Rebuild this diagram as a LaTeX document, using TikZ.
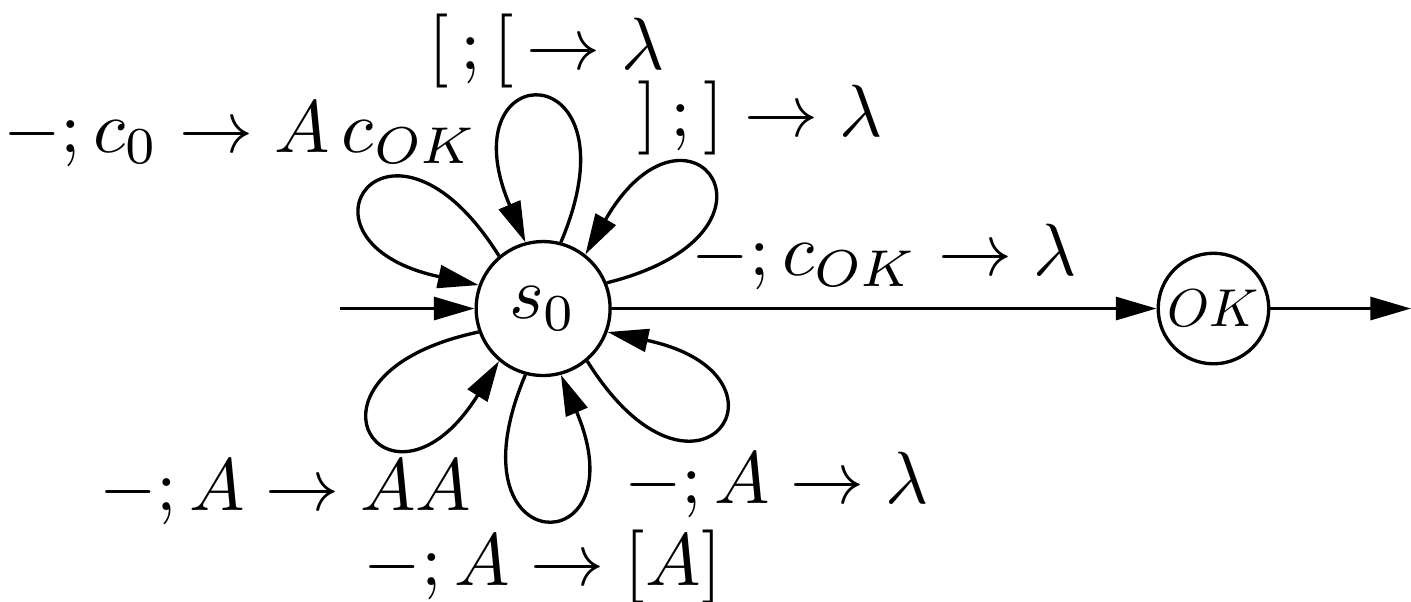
\documentclass[tikz,border=0pt]{standalone}
\usetikzlibrary{arrows.meta}

\tikzset{
  state/.style={draw, circle, inner sep=0pt, minimum size=6.36mm},
  trans/.style={-{Triangle[length=5.5pt,width=3.1pt]}},
  lbl/.style={anchor=base, inner sep=0pt}
}

\begin{document}
\begin{tikzpicture}[line width=0.45pt]
    \useasboundingbox (0,0) rectangle (6.70,2.855);

    % States
    \node[state] (s0) at (2.579,1.39) {$s_0$};
    \node[state, minimum size=5.25mm] (ok) at (5.762,1.39) {\scalebox{0.72}{$OK$}};
    \coordinate (start) at (1.615,1.39);
    \coordinate (stop) at (6.70,1.39);

    % Entry, exit and the step to OK
    \draw[trans] (start) -- (s0);
    \draw[trans] (ok) -- (stop);
    \draw[trans] (s0) -- node[above=-1pt] {$-;c_{OK}\rightarrow\lambda$} (ok);

    % Loops on s0 (exit angle / entry angle)
    \foreach \p/\q in {22/52, 75/105, 130/160, 200/230, 255/285, 310/340}
        \draw[trans] (s0.\p) to[out=\p-8, in=\q+8, distance=9.8mm] (s0.\q);

    % Loop labels
    \node[lbl] (lab-open) at (2.594,2.527) {$[\,;[\,\rightarrow\lambda$};
    \node[lbl] (lab-close) at (3.61,2.206) {$]\,;]\rightarrow\lambda$};
    \node[lbl] (lab-init) at (1.142,2.133) {$-;c_0\rightarrow A\,c_{OK}$};
    \node[lbl] (lab-push) at (1.354,0.432) {$-;A\rightarrow AA$};
    \node[lbl] (lab-pop) at (3.686,0.466) {$-;A\rightarrow\lambda$};
    \node[lbl] (lab-wrap) at (2.577,0.076) {$-;A\rightarrow[A]$};
\end{tikzpicture}
\end{document}
